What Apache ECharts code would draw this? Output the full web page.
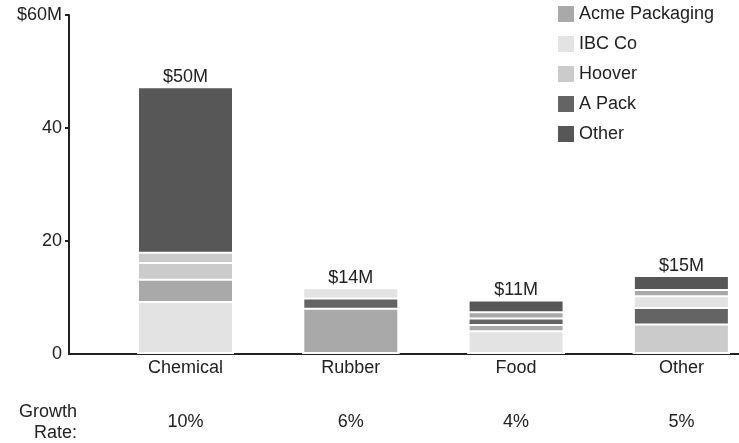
<!DOCTYPE html>
<html>
<head>
<meta charset="utf-8">
<script src="https://cdn.jsdelivr.net/npm/echarts@6/dist/echarts.min.js"></script>
<style>
  html, body { margin: 0; padding: 0; background: #fff; }
  #main { width: 739px; height: 443px; }
</style>
</head>
<body>
<div id="main"></div>
<script>
var categories = ['Chemical', 'Rubber', 'Food', 'Other'];
var growthRates = ['10%', '6%', '4%', '5%'];
var totalLabels = ['$50M', '$14M', '$11M', '$15M'];
var companies = ['Acme Packaging', 'IBC Co', 'Hoover', 'A Pack', 'Other'];

// segments of each bar, bottom to top
var chemicalCos = ['IBC Co', 'Acme Packaging', 'Hoover', 'Hoover', 'Other'];
var chemicalVals = [9.4, 3.9, 3.0, 1.8, 29.3];
var rubberCos = ['Acme Packaging', 'A Pack', 'IBC Co'];
var rubberVals = [8.2, 1.8, 1.8];
var foodCos = ['IBC Co', 'Acme Packaging', 'A Pack', 'Acme Packaging', 'Other'];
var foodVals = [4.2, 1.1, 1.15, 1.1, 2.1];
var otherCos = ['Hoover', 'A Pack', 'IBC Co', 'Acme Packaging', 'Other'];
var otherVals = [5.4, 2.9, 2.1, 1.1, 2.5];

var yTicks = [0, 20, 40, 60];

var barCos = [chemicalCos, rubberCos, foodCos, otherCos];
var barVals = [chemicalVals, rubberVals, foodVals, otherVals];

var colors = {
  'Acme Packaging': '#a9a9a9',
  'IBC Co': '#e3e3e3',
  'Hoover': '#cbcbcb',
  'A Pack': '#646464',
  'Other': '#575757'
};
var font = '"Liberation Sans", Arial, sans-serif';
var textColor = '#222';

var chart = echarts.init(document.getElementById('main'));

// running totals, so every segment is a bar from 0 up to its own top;
// higher segments go behind lower ones and the white border makes the gaps
var tops = barVals.map(function (vals) {
  var s = 0;
  return vals.map(function (v) { s += v; return s; });
});

var series = [];
var layers = Math.max.apply(null, barVals.map(function (v) { return v.length; }));
for (let k = layers - 1; k >= 0; k--) {
  let data = [];
  for (let c = 0; c < categories.length; c++) {
    if (k >= barVals[c].length) continue;
    let item = { value: [c, tops[c][k]], itemStyle: { color: colors[barCos[c][k]] } };
    if (k === barVals[c].length - 1) {
      item.label = {
        show: true, position: 'top', distance: 0,
        formatter: totalLabels[c],
        fontSize: 18, fontFamily: font, color: textColor
      };
    }
    data.push(item);
  }
  series.push({
    name: 'layer' + k,
    type: 'bar',
    barWidth: 97,
    barGap: '-100%',
    itemStyle: { borderColor: '#fff', borderWidth: 2 },
    data: data
  });
}
// legend entries
companies.forEach(function (name) {
  series.push({
    name: name, type: 'bar', barWidth: 97, barGap: '-100%',
    itemStyle: { color: colors[name] }, data: []
  });
});

var option = {
  animation: false,
  backgroundColor: '#fff',
  textStyle: { fontFamily: font },
  grid: { left: 69, right: 0, top: 15, bottom: 89 },
  legend: {
    data: companies,
    orient: 'vertical',
    left: 558,
    top: 5,
    padding: 0,
    itemWidth: 16,
    itemHeight: 16,
    itemGap: 12,
    icon: 'rect',
    textStyle: { fontSize: 18, fontFamily: font, color: textColor }
  },
  xAxis: {
    type: 'value',
    min: -0.7048,
    max: 3.3485,
    splitLine: { show: false },
    axisTick: { show: false },
    axisLine: { show: true, onZero: false, lineStyle: { color: textColor, width: 2 } },
    axisLabel: {
      customValues: [0, 1, 2, 3],
      margin: 5,
      fontSize: 18,
      lineHeight: 18,
      fontFamily: font,
      color: textColor,
      formatter: function (v) {
        return categories[v] + '\n\n\n' + growthRates[v];
      }
    }
  },
  yAxis: {
    type: 'value',
    min: 0,
    max: 60,
    interval: 20,
    splitLine: { show: false },
    axisLine: { show: true, onZero: false, lineStyle: { color: textColor, width: 2 } },
    axisTick: { show: true, length: 4, customValues: yTicks.slice(1), lineStyle: { color: textColor, width: 2 } },
    axisLabel: {
      margin: 7,
      fontSize: 18,
      fontFamily: font,
      color: textColor,
      customValues: yTicks,
      formatter: function (v) { return v === 60 ? '$60M' : String(v); }
    }
  },
  graphic: [{
    type: 'text',
    x: 77,
    y: 402,
    style: {
      text: 'Growth\nRate:',
      align: 'right',
      verticalAlign: 'top',
      fontSize: 18,
      lineHeight: 21,
      fontFamily: font,
      fill: textColor
    }
  }],
  series: series
};
chart.setOption(option);
</script>
</body>
</html>
